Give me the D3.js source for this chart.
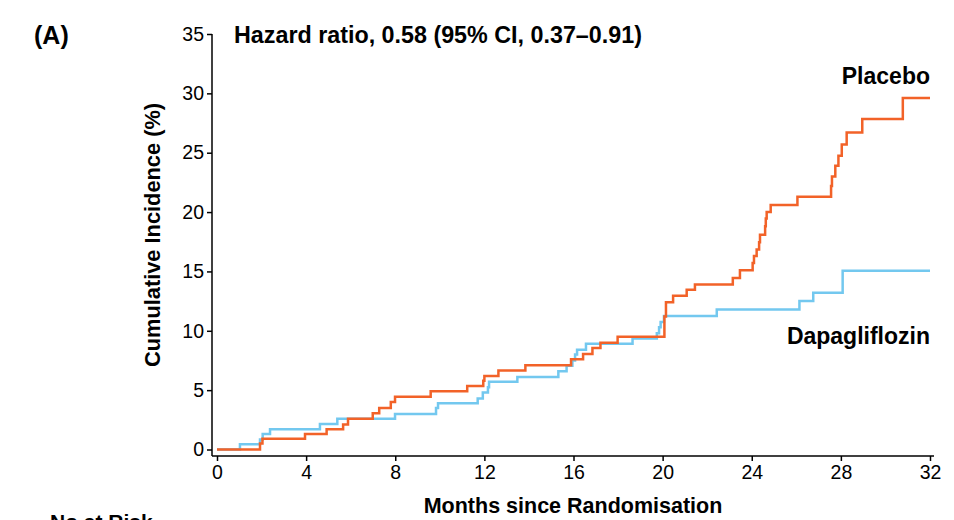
<!DOCTYPE html>
<html>
<head>
<meta charset="utf-8">
<script src="https://cdn.jsdelivr.net/npm/d3@7"></script>
<style>
  body { margin: 0; background: #fff; }
  svg { font-family: "Liberation Sans", Arial, sans-serif; }
  .axis path, .axis line { stroke: #000; stroke-width: 1.5; }
  .axis text { font-size: 19.5px; fill: #000; }
</style>
</head>
<body>
<div id="chart"></div>
<script>
// step points [month, cumulative incidence %]
var placebo = [
  [0, 0], [1.93, 0.5], [2.04, 0.9], [3.95, 1.3], [4.92, 1.7], [5.66, 2.1], [5.88, 2.6],
  [6.99, 3.05], [7.28, 3.5], [7.8, 4.0], [7.99, 4.45], [9.59, 4.9], [11.23, 5.35],
  [11.95, 5.8], [12.0, 6.2], [12.63, 6.65], [13.84, 7.1], [15.89, 7.6], [16.43, 8.05],
  [16.85, 8.55], [17.21, 9.0], [17.98, 9.5], [20.08, 11.2], [20.15, 12.4], [20.47, 12.95],
  [21.08, 13.45], [21.45, 13.9], [23.15, 14.45], [23.47, 15.1], [24.04, 15.7], [24.1, 16.3],
  [24.22, 16.85], [24.33, 17.45], [24.37, 18.1], [24.6, 18.8], [24.63, 19.45], [24.67, 20.0],
  [24.85, 20.6], [26.05, 21.3], [27.56, 22.2], [27.6, 23.0], [27.75, 23.9], [27.89, 24.75],
  [28.04, 25.7], [28.26, 26.7], [28.96, 27.85], [30.78, 29.6], [32, 29.6]
];
var dapagliflozin = [
  [0, 0], [1.03, 0.45], [1.93, 0.85], [2.05, 1.3], [2.38, 1.7], [4.62, 2.15], [5.4, 2.6],
  [7.99, 3.0], [9.83, 3.5], [9.92, 3.9], [11.7, 4.3], [11.93, 4.8], [12.16, 5.25],
  [12.21, 5.7], [13.48, 6.1], [15.32, 6.6], [15.69, 7.05], [15.95, 7.5], [16.07, 8.0],
  [16.16, 8.4], [16.56, 8.9], [18.65, 9.35], [19.74, 9.8], [19.84, 10.3], [19.91, 10.75],
  [20.06, 11.25], [22.43, 11.8], [26.14, 12.5], [26.76, 13.2], [28.08, 15.05], [32, 15.05]
];
var xTicks = [0, 4, 8, 12, 16, 20, 24, 28, 32];
var yTicks = [0, 5, 10, 15, 20, 25, 30, 35];

var width = 954, height = 520;
var svg = d3.select("#chart").append("svg")
  .attr("width", width)
  .attr("height", height);

var xScale = d3.scaleLinear().domain([0, 32]).range([217, 930]);
var yScale = d3.scaleLinear().domain([0, 35]).range([449.5, 34]);

// axes
var yAxis = d3.axisLeft(yScale).tickValues(yTicks).tickSize(5).tickPadding(3).tickSizeOuter(0);
svg.append("g").attr("class", "axis")
  .attr("transform", "translate(212,0)")
  .call(yAxis)
  .call(g => g.select(".domain").attr("d", "M0," + yScale(35) + "V456"));

var xAxis = d3.axisBottom(xScale).tickValues(xTicks).tickSize(5).tickPadding(4).tickSizeOuter(0);
svg.append("g").attr("class", "axis")
  .attr("transform", "translate(0,456)")
  .call(xAxis)
  .call(g => g.select(".domain").attr("d", "M212,0H934"));

// curves
var line = d3.line()
  .x(d => xScale(d[0]))
  .y(d => yScale(d[1]))
  .curve(d3.curveStepAfter);

svg.append("path")
  .datum(dapagliflozin)
  .attr("fill", "none")
  .attr("stroke", "#73C8EF")
  .attr("stroke-width", 2.5)
  .attr("d", line);

svg.append("path")
  .datum(placebo)
  .attr("fill", "none")
  .attr("stroke", "#F26228")
  .attr("stroke-width", 2.5)
  .attr("d", line);

// labels
svg.append("text").attr("x", 34).attr("y", 44)
  .style("font-size", "25px").style("font-weight", "bold").text("(A)");

svg.append("text").attr("x", 234).attr("y", 43)
  .style("font-size", "23.3px").style("font-weight", "bold")
  .text("Hazard ratio, 0.58 (95% CI, 0.37\u20130.91)");

svg.append("text").attr("x", 930).attr("y", 84).attr("text-anchor", "end")
  .style("font-size", "23px").style("font-weight", "bold").text("Placebo");

svg.append("text").attr("x", 930).attr("y", 344).attr("text-anchor", "end")
  .style("font-size", "23px").style("font-weight", "bold").text("Dapagliflozin");

svg.append("text")
  .attr("transform", "translate(160,235) rotate(-90)")
  .attr("text-anchor", "middle")
  .style("font-size", "21.8px").style("font-weight", "bold")
  .text("Cumulative Incidence (%)");

svg.append("text").attr("x", 573).attr("y", 513).attr("text-anchor", "middle")
  .style("font-size", "21.5px").style("font-weight", "bold")
  .text("Months since Randomisation");

svg.append("text").attr("x", 50).attr("y", 529)
  .style("font-size", "21px").style("font-weight", "bold")
  .text("No at Risk");
</script>
</body>
</html>
